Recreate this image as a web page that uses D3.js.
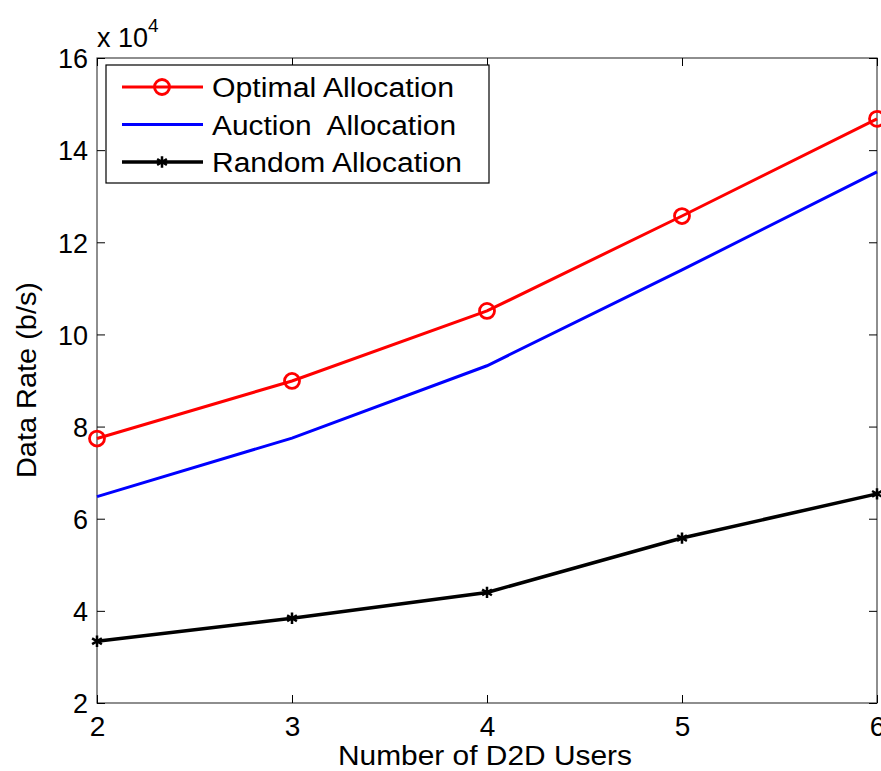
<!DOCTYPE html>
<head>
  <title>Data Rate vs Number of D2D Users</title>
  <style>
    body { margin: 0; background: #fff; }
    text { font-family: "Liberation Sans", Arial, sans-serif; fill: #000; }
  </style>
</head>
<body>
  <script src="https://cdn.jsdelivr.net/npm/d3@7"></script>
  <script>
    // data (values in units of 10^4 b/s)
    var users = [2, 3, 4, 5, 6];
    var optimal = [7.74, 8.99, 10.51, 12.57, 14.68];
    var auction = [6.48, 7.75, 9.32, 11.40, 13.53];
    var random = [3.34, 3.84, 4.40, 5.58, 6.54];
    var yTicks = [2, 4, 6, 8, 10, 12, 14, 16];
    var seriesNames = ["Optimal Allocation", "Auction  Allocation", "Random Allocation"];

    var margin = {top: 58, right: 4, bottom: 68, left: 97},
        width = 881 - margin.left - margin.right,
        height = 771 - margin.top - margin.bottom;

    var svg = d3.select("body").append("svg")
        .attr("width", 881)
        .attr("height", 771)
      .append("g")
        .attr("transform", "translate(" + margin.left + "," + margin.top + ")");

    var x = d3.scaleLinear().domain([2, 6]).range([0, width]);
    var y = d3.scaleLinear().domain([2, 16]).range([height, 0]);

    // frame
    svg.append("rect")
        .attr("width", width).attr("height", height)
        .attr("fill", "none").attr("stroke", "#444").attr("stroke-width", 1.2);

    // axes with inward ticks
    var xAx = svg.append("g").attr("transform", "translate(0," + height + ")")
        .call(d3.axisBottom(x).tickValues(users).tickSize(-8).tickFormat(d3.format("d")));
    var xTop = svg.append("g")
        .call(d3.axisTop(x).tickValues(users).tickSize(-8).tickFormat(""));
    var yAx = svg.append("g")
        .call(d3.axisLeft(y).tickValues(yTicks).tickSize(-8).tickPadding(9));
    var yRight = svg.append("g").attr("transform", "translate(" + width + ",0)")
        .call(d3.axisRight(y).tickValues(yTicks).tickSize(-8).tickFormat(""));

    [xAx, xTop, yAx, yRight].forEach(function(g) {
      g.select(".domain").remove();
      g.selectAll("line").attr("stroke", "#000");
      g.selectAll("text").style("font-family", "Liberation Sans, Arial, sans-serif");
    });
    xAx.selectAll("text").style("font-size", "28px").attr("y", 33).attr("dy", 0);
    yAx.selectAll("text").style("font-size", "27px").attr("dy", "0.36em");

    // multiplier label
    var mult = svg.append("text").attr("x", 0).attr("y", -11).style("font-size", "27px");
    mult.append("tspan").text("x 10");
    mult.append("tspan").attr("dy", -15).style("font-size", "19px").text("4");

    // axis labels
    svg.append("text")
        .attr("x", 485 - margin.left)
        .attr("y", height + 62)
        .style("text-anchor", "middle")
        .style("font-size", "28px")
        .attr("textLength", 294).attr("lengthAdjust", "spacingAndGlyphs")
        .text("Number of D2D Users");

    svg.append("text")
        .attr("transform", "rotate(-90)")
        .attr("x", -(380 - margin.top))
        .attr("y", 36 - margin.left)
        .style("text-anchor", "middle")
        .style("font-size", "27px")
        .attr("textLength", 196).attr("lengthAdjust", "spacingAndGlyphs")
        .text("Data Rate (b/s)");

    var line = d3.line()
        .x(function(d, i) { return x(users[i]); })
        .y(function(d) { return y(d); });

    // lines
    svg.append("path").datum(auction).attr("d", line)
        .attr("fill", "none").attr("stroke", "#0000ff").attr("stroke-width", 3);
    svg.append("path").datum(random).attr("d", line)
        .attr("fill", "none").attr("stroke", "#000").attr("stroke-width", 3.5);
    svg.append("path").datum(optimal).attr("d", line)
        .attr("fill", "none").attr("stroke", "#ff0000").attr("stroke-width", 3);

    // markers
    svg.selectAll(".opt").data(optimal).enter().append("circle")
        .attr("cx", function(d, i) { return x(users[i]); })
        .attr("cy", function(d) { return y(d); })
        .attr("r", 7.5)
        .attr("fill", "none").attr("stroke", "#ff0000").attr("stroke-width", 2.8);

    var star = d3.symbol().type(d3.symbolAsterisk).size(90);
    svg.selectAll(".rnd").data(random).enter().append("path")
        .attr("d", star)
        .attr("transform", function(d, i) { return "translate(" + x(users[i]) + "," + y(d) + ")"; })
        .attr("fill", "none").attr("stroke", "#000").attr("stroke-width", 2.5);

    // legend
    var leg = svg.append("g").attr("transform", "translate(9,7)");
    leg.append("rect").attr("width", 383).attr("height", 118)
        .attr("fill", "#fff").attr("stroke", "#000").attr("stroke-width", 1.2);
    var colors = ["#ff0000", "#0000ff", "#000"];
    var legLengths = [242, 244, 250];
    seriesNames.forEach(function(name, i) {
      var yy = 22 + i * 37.5;
      leg.append("line").attr("x1", 16).attr("x2", 97).attr("y1", yy).attr("y2", yy)
          .attr("stroke", colors[i]).attr("stroke-width", i == 2 ? 3.5 : 3);
      if (i == 0) {
        leg.append("circle").attr("cx", 56).attr("cy", yy).attr("r", 7.5)
            .attr("fill", "none").attr("stroke", "#ff0000").attr("stroke-width", 2.8);
      }
      if (i == 2) {
        leg.append("path").attr("d", star).attr("transform", "translate(56," + yy + ")")
            .attr("fill", "none").attr("stroke", "#000").attr("stroke-width", 2.5);
      }
      leg.append("text").attr("x", 106).attr("y", yy + 10)
          .style("font-size", "27px").style("white-space", "pre")
          .attr("textLength", legLengths[i]).attr("lengthAdjust", "spacingAndGlyphs")
          .text(name);
    });
  </script>
</body>
